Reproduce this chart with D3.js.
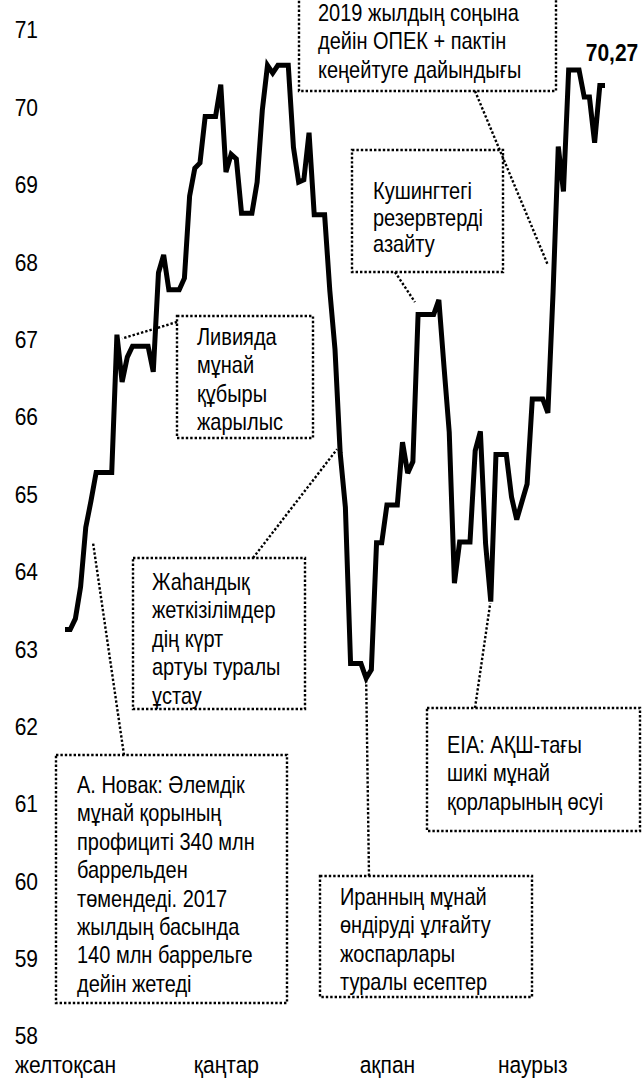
<!DOCTYPE html>
<html>
<head>
<meta charset="utf-8">
<script src="https://cdn.jsdelivr.net/npm/d3@7"></script>
<style>
  body { margin: 0; background: #fff; }
  text { font-family: "Liberation Sans", Arial, sans-serif; fill: #000; }
</style>
</head>
<body>
<div id="viz"></div>
<script>
// Data: daily values from 16 Dec to 30 Mar (weekends carry the previous value)
const startDate = new Date(2017, 11, 16);
const prices = [
  63.24, 63.24, 63.38, 63.79, 64.56, 64.90, 65.27, 65.27, 65.27, 65.27,
  67.05, 66.44, 66.76, 66.90, 66.90, 66.90, 66.90, 66.57, 67.85, 68.08,
  67.63, 67.63, 67.63, 67.78, 68.84, 69.20, 69.27, 69.87, 69.87, 69.87,
  70.28, 69.15, 69.38, 69.32, 68.62, 68.62, 68.62, 69.02, 69.95, 70.53,
  70.43, 70.53, 70.53, 70.53, 69.47, 69.02, 69.05, 69.66, 68.60, 68.60,
  68.60, 67.62, 66.86, 65.52, 64.82, 62.80, 62.80, 62.80, 62.61, 62.72,
  64.36, 64.36, 64.85, 64.85, 64.85, 65.66, 65.26, 65.41, 67.31, 67.31,
  67.31, 67.31, 67.50, 66.63, 65.79, 63.84, 64.37, 64.37, 64.37, 65.55,
  65.80, 64.35, 63.60, 65.50, 65.50, 65.50, 64.95, 64.66, 64.89, 65.12,
  66.22, 66.22, 66.22, 66.04, 67.60, 69.48, 68.90, 70.47, 70.47, 70.47,
  70.12, 70.12, 69.53, 70.27, 70.27
];
const monthNames = ["желтоқсан", "қаңтар", "ақпан", "наурыз"];
const monthDates = [new Date(2017, 11, 16), new Date(2018, 0, 16), new Date(2018, 1, 16), new Date(2018, 2, 16)];
const yTicks = [58, 59, 60, 61, 62, 63, 64, 65, 66, 67, 68, 69, 70, 71];

// Annotation texts
const noteOpec = ["2019 жылдың соңына", "дейін ОПЕК + пактін", "кеңейтуге дайындығы"];
const noteCushing = ["Кушингтегі", "резервтерді", "азайту"];
const noteLibya = ["Ливияда", "мұнай", "құбыры", "жарылыс"];
const noteSupply = ["Жаһандық", "жеткізілімдер", "дің күрт", "артуы туралы", "ұстау"];
const noteNovak = ["А. Новак: Әлемдік", "мұнай қорының", "профициті 340 млн", "баррельден",
  "төмендеді. 2017", "жылдың басында", "140 млн баррельге", "дейін жетеді"];
const noteIran = ["Иранның мұнай", "өндіруді ұлғайту", "жоспарлары", "туралы есептер"];
const noteEia = ["EIA: АҚШ-тағы", "шикі мұнай", "қорларының өсуі"];

const width = 642;
const height = 1086;
const SY = 1.18;       // text in the picture is drawn a bit taller than wide
const axisFont = 21;
const noteFont = 20;
const lh = 28.4;

const data = prices.map((v, i) => ({ date: d3.timeDay.offset(startDate, i), value: v }));

const svg = d3.select("#viz")
    .append("svg")
    .attr("width", width)
    .attr("height", height)
    .style("background", "#fff");

const x = d3.scaleTime()
    .domain([data[0].date, data[data.length - 1].date])
    .range([65, 605]);

const y = d3.scaleLinear()
    .domain([58, 71])
    .range([1035, 29]);

// Y axis (labels only)
const yAxis = svg.append("g")
    .attr("transform", "translate(38,0)")
    .call(d3.axisLeft(y).tickValues(yTicks).tickFormat(d3.format("d")).tickSize(0).tickPadding(0));
yAxis.select(".domain").remove();
yAxis.selectAll("text")
    .attr("dy", "0.36em")
    .attr("transform", `scale(1,${SY})`)
    .style("font-size", axisFont + "px")
    .style("font-family", "'Liberation Sans', Arial, sans-serif");

// X axis (month labels)
const xAxis = svg.append("g")
    .attr("transform", "translate(0,1073)")
    .call(d3.axisBottom(x).tickValues(monthDates).tickFormat((d, i) => monthNames[i]).tickSize(0).tickPadding(0));
xAxis.select(".domain").remove();
xAxis.selectAll("text")
    .attr("y", 0)
    .attr("dy", 0)
    .attr("transform", `scale(1,${SY})`)
    .style("font-size", axisFont + "px")
    .style("font-family", "'Liberation Sans', Arial, sans-serif");

// Annotation boxes and leaders
const dotStyle = sel => sel
    .attr("fill", "none")
    .attr("stroke", "#000")
    .attr("stroke-width", 2.4)
    .attr("stroke-dasharray", "2.4 2");

const dayWidth = x(d3.timeDay.offset(startDate, 1)) - x(startDate);

const notes = [
  { lines: noteOpec, box: [299, -20, 257, 111], tx: 318, ty: 21, lead: [475, 91], to: [93, 67.95] },
  { lines: noteCushing, box: [352, 150, 151, 122], tx: 373, ty: 199, lh: 26.5, lead: [395, 272], to: [67.4, 67.47] },
  { lines: noteLibya, box: [177, 316, 136, 122], tx: 197, ty: 345, lead: [177, 322], to: [11, 67.0] },
  { lines: noteSupply, box: [133, 558, 172, 151], tx: 152, ty: 590, lead: [253, 558], to: [52.4, 65.57] },
  { lines: noteNovak, box: [56, 755, 231, 248], tx: 77, ty: 793, lead: [124, 755], to: [5.4, 64.36] },
  { lines: noteIran, box: [320, 876, 212, 121], tx: 340, ty: 905, lead: [369, 876], to: [58, 62.6] },
  { lines: noteEia, box: [427, 708, 213, 123], tx: 447, ty: 753, lead: [475, 708], to: [81.9, 63.58] }
];

notes.forEach(n => {
    const g = svg.append("g");
    g.append("rect")
        .attr("x", n.box[0]).attr("y", n.box[1])
        .attr("width", n.box[2]).attr("height", n.box[3])
        .call(dotStyle);
    const tx = x(d3.timeDay.offset(startDate, Math.floor(n.to[0]))) + (n.to[0] % 1) * dayWidth;
    g.append("line")
        .attr("x1", n.lead[0]).attr("y1", n.lead[1])
        .attr("x2", tx).attr("y2", y(n.to[1]))
        .call(dotStyle);
    n.lines.forEach((t, i) => {
        g.append("text")
            .attr("transform", `translate(${n.tx},${n.ty + i * (n.lh || lh)}) scale(1,${SY})`)
            .style("font-size", noteFont + "px")
            .text(t);
    });
});

// Price line
const line = d3.line()
    .x(d => x(d.date))
    .y(d => y(d.value));

svg.append("path")
    .datum(data)
    .attr("fill", "none")
    .attr("stroke", "#000")
    .attr("stroke-width", 5)
    .attr("stroke-linejoin", "miter")
    .attr("stroke-miterlimit", 3)
    .attr("d", line);

// Last value label
const kz = d3.formatLocale({ decimal: ",", thousands: " ", grouping: [3], currency: ["", ""] });
const last = data[data.length - 1];
svg.append("text")
    .attr("transform", `translate(${x(last.date) + 7},${y(last.value) - 24}) scale(1,${SY})`)
    .attr("text-anchor", "middle")
    .style("font-size", axisFont + "px")
    .style("font-weight", "bold")
    .text(kz.format(".2f")(last.value));
</script>
</body>
</html>
